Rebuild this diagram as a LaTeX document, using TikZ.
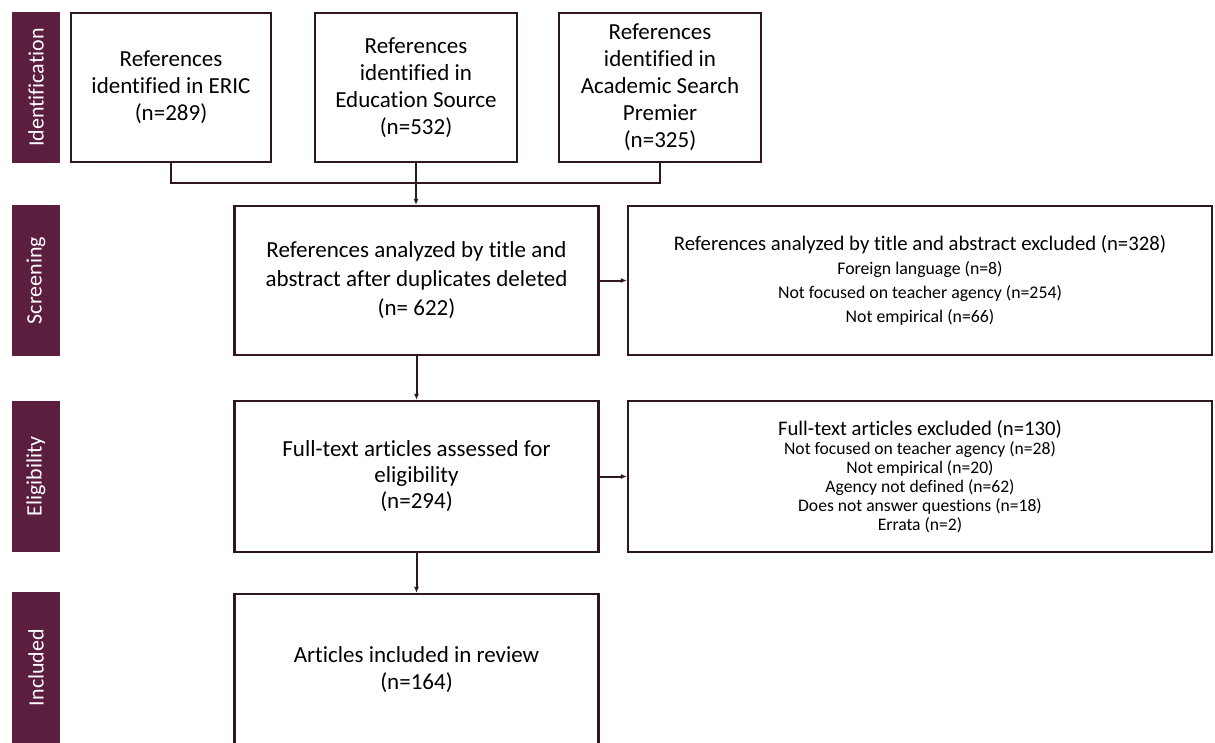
\documentclass[tikz,border=0pt]{standalone}
\usepackage{fontspec}
\setmainfont{Carlito}[Ligatures=NoCommon]
\usetikzlibrary{arrows.meta}
\definecolor{plum}{RGB}{92,30,62}
\definecolor{edgecol}{RGB}{48,22,34}

\begin{document}
\begin{tikzpicture}[x=1pt,y=-1pt,
    stage/.style={fill=plum,draw=none,rotate=90,minimum width=151pt,minimum height=48pt,
      text=white,font=\fontsize{22}{26}\selectfont},
    box/.style={draw=edgecol,line width=2.2pt,fill=white,align=center,inner sep=0pt,
      font=\fontsize{23}{27}\selectfont},
    link/.style={draw=edgecol,line width=2pt},
    arr/.style={link,-{Latex[length=6pt,width=5pt]}}]
    %\draw (0,0) grid (1215,742);
    \useasboundingbox[fill=white] (0,0) rectangle (1215,742);
    \clip (0,0) rectangle (1215,742);
      % Stages
      \node[stage] (sid) at (36,87.5) {Identification};
      \node[stage] (sscr) at (36,280.5) {Screening};
      \node[stage] (selig) at (36,476.5) {Eligibility};
      \node[stage] (sinc) at (36,667.5) {Included};
      % Boxes
      \node[box,minimum width=200pt,minimum height=149pt] (eric) at (171,87.5)
        {References\\identified in ERIC\\(n=289)};
      \node[box,minimum width=202pt,minimum height=149pt] (edu) at (416,87.5)
        {References\\identified in\\Education Source\\(n=532)};
      \node[box,minimum width=202pt,minimum height=149pt] (asp) at (660,87.5)
        {References\\identified in\\Academic Search\\Premier\\(n=325)};
      \node[box,minimum width=364pt,minimum height=149pt,font=\fontsize{23}{29}\selectfont] (scr) at (416.5,280.5)
        {References analyzed by title and\\abstract after duplicates deleted\\(n= 622)};
      \node[box,minimum width=584pt,minimum height=149pt,text depth=4pt,font=\fontsize{17.8}{24}\selectfont] (exc1) at (920,280.5)
        {{\fontsize{20.7}{24}\selectfont References analyzed by title and abstract excluded (n=328)}\\
         Foreign language (n=8)\\Not focused on teacher agency (n=254)\\Not empirical (n=66)};
      \node[box,minimum width=584pt,minimum height=151pt,font=\fontsize{17.6}{19}\selectfont] (exc2) at (920,476.5)
        {{\fontsize{20.7}{19}\selectfont Full-text articles excluded (n=130)}\\
         Not focused on teacher agency (n=28)\\Not empirical (n=20)\\Agency not defined (n=62)\\
         Does not answer questions (n=18)\\Errata (n=2)};
      \node[box,minimum width=364pt,minimum height=151pt,font=\fontsize{23}{26}\selectfont] (elig) at (416.5,476.5)
        {Full-text articles assessed for\\eligibility\\(n=294)};
      \node[box,minimum width=364pt,minimum height=151pt] (incl) at (416.5,669.5)
        {Articles included in review\\(n=164)};
      % Edges
      \coordinate (join) at (416,183);
      \draw[link] (eric.south) |- (join) -| (asp.south);
      \draw[arr] (edu.south) -- (edu.south |- scr.north);
      \draw[arr] (scr.east) -- (exc1.west);
      \draw[arr] (elig.east) -- (exc2.west);
      \draw[arr] (scr.south) -- (elig.north);
      \draw[arr] (elig.south) -- (incl.north);
\end{tikzpicture}
\end{document}
